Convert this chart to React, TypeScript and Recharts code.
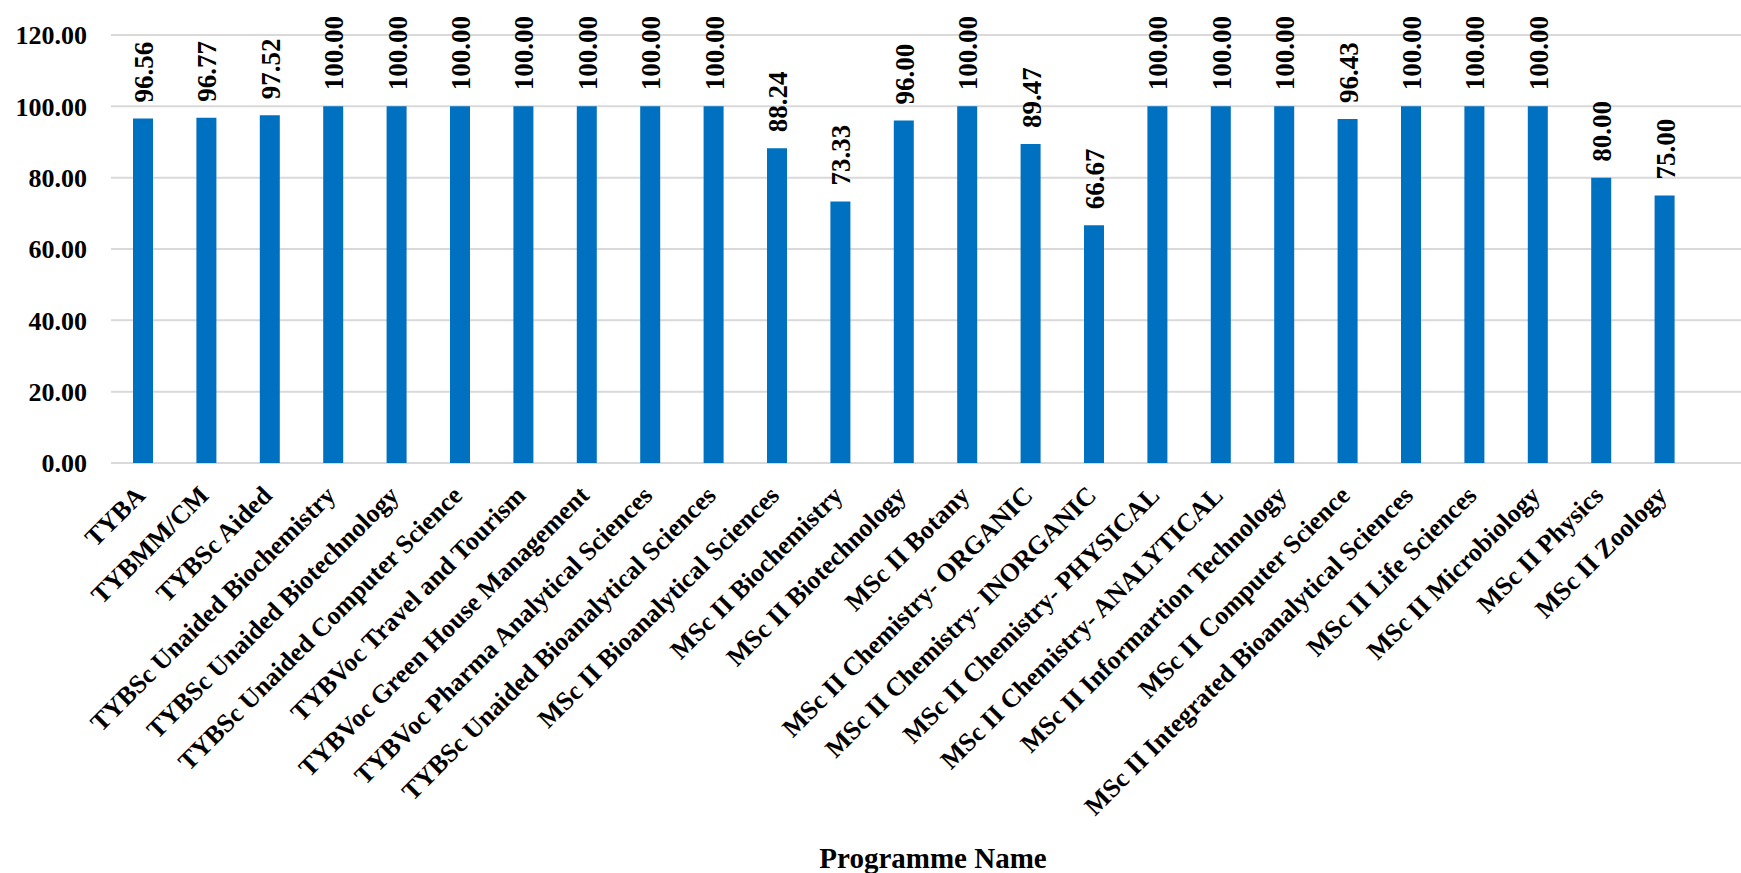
import { BarChart, Bar, XAxis, YAxis, CartesianGrid, LabelList } from "recharts"

const programmes = [
  "TYBA",
  "TYBMM/CM",
  "TYBSc Aided",
  "TYBSc Unaided Biochemistry",
  "TYBSc Unaided Biotechnology",
  "TYBSc Unaided Computer Science",
  "TYBVoc Travel and Tourism",
  "TYBVoc Green House Management",
  "TYBVoc Pharma Analytical Sciences",
  "TYBSc Unaided Bioanalytical Sciences",
  "MSc II Bioanalytical Sciences",
  "MSc II Biochemistry",
  "MSc II Biotechnology",
  "MSc II Botany",
  "MSc II Chemistry- ORGANIC",
  "MSc II Chemistry- INORGANIC",
  "MSc II Chemistry- PHYSICAL",
  "MSc II Chemistry- ANALYTICAL",
  "MSc II Informartion Technology",
  "MSc II Computer Science",
  "MSc II Integrated Bioanalytical Sciences",
  "MSc II Life Sciences",
  "MSc II Microbiology",
  "MSc II Physics",
  "MSc II Zoology",
]

const passPercent = [
  96.56, 96.77, 97.52, 100, 100, 100, 100, 100, 100, 100, 88.24, 73.33, 96.0,
  100, 89.47, 66.67, 100, 100, 100, 96.43, 100, 100, 100, 80.0, 75.0,
]

const yTicks = [0, 20, 40, 60, 80, 100, 120]

const data = programmes.map((name, i) => ({ name, value: passPercent[i] }))

const FONT = '"Liberation Serif", "Times New Roman", serif'

const XTick = (props: any) => {
  const { x, y, payload } = props
  return (
    <g transform={`translate(${x + 4},${y + 34})`}>
      <text
        x={0}
        y={0}
        transform="rotate(-45)"
        textAnchor="end"
        fontFamily={FONT}
        fontWeight="bold"
        fontSize={26}
        fill="#000"
      >
        {payload.value}
      </text>
    </g>
  )
}

const ValueLabel = (props: any) => {
  const { x, y, width, value } = props
  const cx = Number(x) + Number(width) / 2 + 10
  const cy = Number(y) - 16
  return (
    <text
      x={cx}
      y={cy}
      transform={`rotate(-90 ${cx} ${cy})`}
      textAnchor="start"
      fontFamily={FONT}
      fontWeight="bold"
      fontSize={27}
      fill="#000"
    >
      {Number(value).toFixed(2)}
    </text>
  )
}

export default function App() {
  return (
    <div style={{ position: "absolute", left: 0, top: 0, background: "#fff" }}>
      <BarChart
        width={1741}
        height={873}
        data={data}
        margin={{ top: 35, right: 0, bottom: 0, left: 0 }}
      >
        <CartesianGrid vertical={false} stroke="#d9d9d9" strokeWidth={2} />
        <XAxis
          dataKey="name"
          interval={0}
          height={410}
          tickSize={0}
          tickMargin={0}
          axisLine={false}
          tickLine={false}
          padding={{ left: 0, right: 45 }}
          tick={<XTick />}
          label={{
            value: "Programme Name",
            position: "insideBottom",
            offset: 5,
            dx: 7,
            style: {
              fontFamily: FONT,
              fontWeight: "bold",
              fontSize: 29,
              fill: "#000",
            },
          }}
        />
        <YAxis
          width={111}
          domain={[0, 120]}
          ticks={yTicks}
          interval={0}
          axisLine={false}
          tickLine={false}
          tickSize={0}
          tickMargin={24}
          tickFormatter={(v: number) => v.toFixed(2)}
          tick={{ fontFamily: FONT, fontWeight: "bold", fontSize: 26, fill: "#000" }}
        />
        <Bar dataKey="value" fill="#0070c0" barSize={20} isAnimationActive={false}>
          <LabelList dataKey="value" content={<ValueLabel />} />
        </Bar>
      </BarChart>
    </div>
  )
}
